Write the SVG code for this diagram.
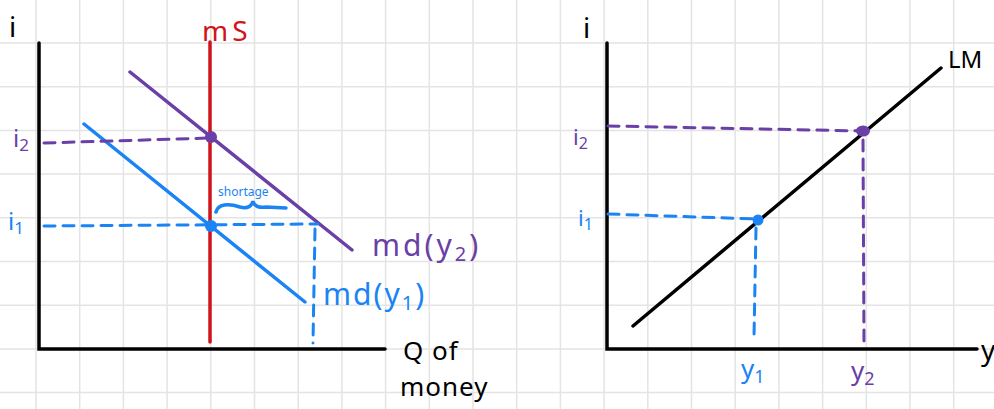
<svg xmlns="http://www.w3.org/2000/svg" width="994" height="409" viewBox="0 0 994 409">
<style>
.grid{stroke:#e4e4e4;stroke-width:1.5;fill:none}
.axis{stroke:#000;stroke-width:3.5;fill:none;stroke-linecap:round}
.curve{stroke-width:3.5;fill:none;stroke-linecap:round}
.dash{stroke-width:3;fill:none;stroke-linecap:round;stroke-dasharray:11 8}
.blue{stroke:#1a84f4}
.purple{stroke:#6a3fa6}
.red{stroke:#d0141c}
.t{font-family:"Noto Sans","DejaVu Sans",sans-serif}
.tb{fill:#1a84f4}
.tp{fill:#6a3fa6}
.tk{fill:#000}
.tr{fill:#d0141c}
</style>
<rect width="994" height="409" fill="#fff"/>
<g id="grid">
<path class="grid" d="M36 0V409M79.7 0V409M123.4 0V409M167.1 0V409M210.8 0V409M254.5 0V409M298.2 0V409M341.9 0V409M385.6 0V409M429.3 0V409M473 0V409M516.7 0V409M560.4 0V409M604.1 0V409M647.8 0V409M691.5 0V409M735.2 0V409M778.9 0V409M822.6 0V409M866.3 0V409M910 0V409M953.7 0V409M0 43H994M0 86.7H994M0 130.4H994M0 174.1H994M0 217.8H994M0 261.5H994M0 305.2H994M0 348.9H994M0 392.6H994"/>
</g>
<g id="connectors">
<!-- left chart -->
<path class="axis" d="M39 43V349H385"/>
<path class="curve red" d="M210 42V342"/>
<path class="curve purple" d="M130 72L352 250"/>
<path class="curve blue" d="M84 124L305 302"/>
<path class="dash purple" d="M44 143L210 138"/>
<path class="dash blue" d="M44 226L318 224"/>
<path class="dash blue" d="M315 229L313 343"/>
<path class="curve blue" stroke-width="3" d="M216 212C218 204 228 203 240 207C248 209 252 206 253 201C254 206 258 208 266 207L286 208"/>
<!-- right chart -->
<path class="axis" d="M607 43V349H977"/>
<path class="curve" stroke="#000" d="M633 326L941 68"/>
<path class="dash purple" d="M608 126L862 131"/>
<path class="dash purple" d="M863 140L864 345"/>
<path class="dash blue" d="M608 214L756 219"/>
<path class="dash blue" d="M756 228L754 338"/>
</g>
<g id="dots">
<circle cx="211" cy="137" r="6" fill="#6a3fa6"/>
<circle cx="211" cy="226" r="6" fill="#1a84f4"/>
<ellipse cx="863" cy="131" rx="7" ry="5.5" fill="#6a3fa6"/>
<circle cx="758" cy="220" r="5.5" fill="#1a84f4"/>
</g>
<g id="labels">
<text class="t tk" x="9" y="37" font-size="28">i</text>
<text class="t tr" x="202" y="41" font-size="28" letter-spacing="4">mS</text>
<text class="t tp" x="13" y="147" font-size="24">i<tspan font-size="17" dy="4">2</tspan></text>
<text class="t tb" x="8" y="230" font-size="24">i<tspan font-size="17" dy="4">1</tspan></text>
<text class="t tb" x="218" y="196" font-size="12">shortage</text>
<text class="t tp" x="372" y="256" font-size="30" letter-spacing="3">md(y<tspan font-size="20" dy="5">2</tspan><tspan dy="-5">)</tspan></text>
<text class="t tb" x="323" y="305" font-size="30" letter-spacing="2">md(y<tspan font-size="20" dy="5">1</tspan><tspan dy="-5">)</tspan></text>
<text class="t tk" x="403" y="360" font-size="26" letter-spacing="1">Q of</text>
<text class="t tk" x="400" y="396" font-size="26" letter-spacing="1">money</text>
<text class="t tk" x="583" y="38" font-size="28">i</text>
<text class="t tp" x="573" y="145" font-size="22">i<tspan font-size="16" dy="4">2</tspan></text>
<text class="t tb" x="578" y="226" font-size="22">i<tspan font-size="16" dy="4">1</tspan></text>
<text class="t tk" x="948" y="68" font-size="24">LM</text>
<text class="t tk" x="981" y="360" font-size="28">y</text>
<text class="t tb" x="741" y="378" font-size="26">y<tspan font-size="18" dy="5">1</tspan></text>
<text class="t tp" x="851" y="380" font-size="26">y<tspan font-size="18" dy="5">2</tspan></text>
</g>
</svg>
